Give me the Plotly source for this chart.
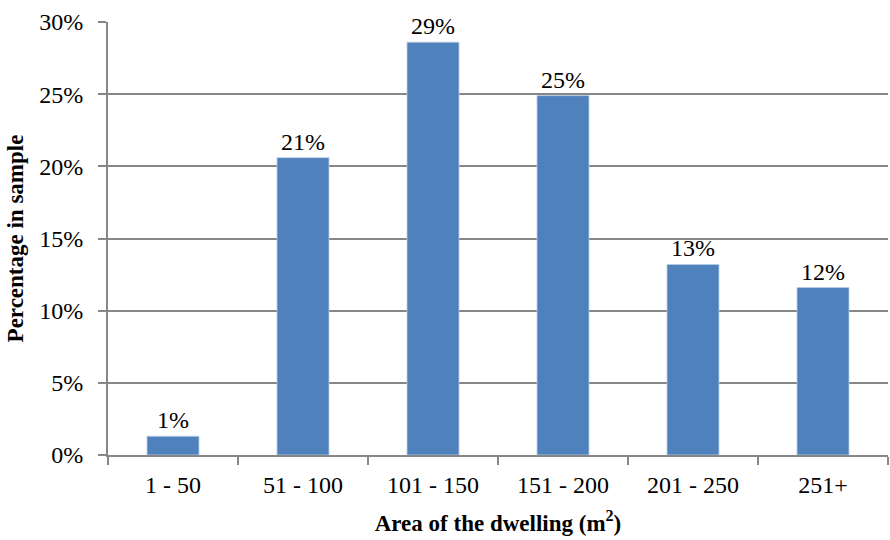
import plotly.graph_objects as go

# Share of dwellings in the sample by floor area
categories = ["1 - 50", "51 - 100", "101 - 150", "151 - 200", "201 - 250", "251+"]
shares = [1.3, 20.6, 28.6, 24.9, 13.2, 11.6]
y_ticks = [0, 5, 10, 15, 20, 25, 30]
y_tick_labels = ["0%", "5%", "10%", "15%", "20%", "25%", "30%"]

FONT = "Liberation Serif, Times New Roman, serif"
GRID = "#878787"

fig = go.Figure(
    go.Bar(
        x=categories,
        y=shares,
        marker=dict(color="#4F81BD", line=dict(color="#B9CDE5", width=0.8)),
        width=0.4,
        texttemplate="%{y:.0f}%",
        textposition="outside",
        textfont=dict(family=FONT, size=24, color="#000000"),
        cliponaxis=False,
    )
)

fig.update_layout(
    width=890,
    height=540,
    margin=dict(l=108, r=2, t=22, b=85),
    paper_bgcolor="white",
    plot_bgcolor="white",
    showlegend=False,
    font=dict(family=FONT, size=24, color="#000000"),
)

fig.update_xaxes(
    type="category",
    tickson="boundaries",
    ticks="outside",
    ticklen=8,
    tickwidth=1.5,
    tickcolor=GRID,
    ticklabelstandoff=7,
    showline=True,
    linecolor=GRID,
    linewidth=2,
    showgrid=False,
    tickfont=dict(family=FONT, size=24, color="#000000"),
    title=dict(
        text="<b>Area of the dwelling (m<sup>2</sup>)</b>",
        font=dict(family=FONT, size=23, color="#000000"),
        standoff=18,
    ),
)

fig.update_yaxes(
    range=[0, 30],
    tickmode="array",
    tickvals=y_ticks,
    ticktext=y_tick_labels,
    ticks="outside",
    ticklen=8,
    tickwidth=2,
    tickcolor=GRID,
    ticklabelstandoff=10,
    showline=True,
    linecolor=GRID,
    linewidth=2,
    showgrid=True,
    gridcolor=GRID,
    gridwidth=2,
    zeroline=False,
    tickfont=dict(family=FONT, size=24, color="#000000"),
    title=dict(
        text="<b>Percentage in sample</b>",
        font=dict(family=FONT, size=23, color="#000000"),
        standoff=9,
    ),
)

fig.write_html("out.html")
